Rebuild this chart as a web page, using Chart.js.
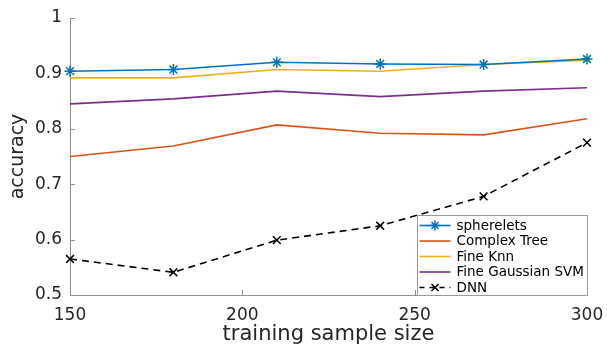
<!DOCTYPE html>
<html>
<head>
<meta charset="utf-8">
<script src="https://cdn.jsdelivr.net/npm/chart.js@4/dist/chart.umd.min.js"></script>
<style>
  html, body { margin: 0; padding: 0; background: #ffffff; }
  #wrap { width: 607px; height: 347px; }
</style>
</head>
<body>
<div id="wrap"><canvas id="c" width="607" height="347"></canvas></div>
<script>
// Accuracy of each classifier against the training sample size
const sampleSizes     = [150, 180, 210, 240, 270, 300];
const spherelets      = [0.904, 0.907, 0.920, 0.917, 0.916, 0.926];
const complexTree     = [0.750, 0.769, 0.807, 0.792, 0.789, 0.818];
const fineKnn         = [0.892, 0.892, 0.907, 0.904, 0.916, 0.924];
const fineGaussianSvm = [0.845, 0.854, 0.868, 0.858, 0.868, 0.874];
const dnn             = [0.565, 0.541, 0.599, 0.625, 0.678, 0.775];

const seriesNames = ['spherelets', 'Complex Tree', 'Fine Knn', 'Fine Gaussian SVM', 'DNN'];
const xTickValues = [150, 200, 250, 300];
const yTickValues = [0.5, 0.6, 0.7, 0.8, 0.9, 1];
const xTitle = 'training sample size';
const yTitle = 'accuracy';

const FONT = '"DejaVu Sans", sans-serif';
const TEXT = '#262626';
const AXIS = '#8f8f8f';

const toPoints = vals => vals.map((v, i) => ({ x: sampleSizes[i], y: v }));

const series = [
  { values: spherelets,      color: '#0072BD', marker: 'star',     dash: [] },
  { values: complexTree,     color: '#D95319', marker: false,      dash: [] },
  { values: fineKnn,         color: '#EDB120', marker: false,      dash: [] },
  { values: fineGaussianSvm, color: '#7E2F8E', marker: false,      dash: [] },
  { values: dnn,             color: '#000000', marker: 'crossRot', dash: [7, 5] }
];

const datasets = series.map((s, i) => ({
  label: seriesNames[i],
  data: toPoints(s.values),
  borderColor: s.color,
  backgroundColor: s.color,
  borderWidth: 1.6,
  borderDash: s.dash,
  pointStyle: s.marker || 'circle',
  pointRadius: s.marker ? 5.5 : 0,
  pointBorderWidth: 1.5,
  pointBorderColor: s.color,
  pointBackgroundColor: s.color,
  tension: 0,
  clip: false
}));

// Inward tick marks along the left and bottom axes
const tickMarks = {
  id: 'tickMarks',
  afterDraw(chart) {
    const { ctx, chartArea: a, scales: { x, y } } = chart;
    ctx.save();
    ctx.strokeStyle = AXIS;
    ctx.lineWidth = 1;
    ctx.beginPath();
    yTickValues.forEach(v => {
      const py = Math.round(y.getPixelForValue(v)) + 0.5;
      ctx.moveTo(a.left, py);
      ctx.lineTo(a.left + 5, py);
    });
    xTickValues.forEach(v => {
      const px = Math.round(x.getPixelForValue(v)) + 0.5;
      ctx.moveTo(px, a.bottom);
      ctx.lineTo(px, a.bottom - 5);
    });
    ctx.stroke();
    ctx.restore();
  }
};

// Boxed legend tucked into the lower right corner of the plot
const cornerLegend = {
  id: 'cornerLegend',
  afterDraw(chart) {
    const { ctx, chartArea: a } = chart;
    const w = 170, h = 80;
    const left = Math.round(a.right - w) + 0.5;
    const top = Math.round(a.bottom - h) + 0.5;
    ctx.save();
    ctx.fillStyle = '#ffffff';
    ctx.fillRect(left, top, w, h);
    ctx.strokeStyle = '#9a9a9a';
    ctx.lineWidth = 1;
    ctx.strokeRect(left, top, w, h);
    chart.data.datasets.forEach((ds, i) => {
      const cy = top + 10 + i * 15.5;
      const x0 = left + 2, x1 = left + 33, mid = (x0 + x1) / 2;
      ctx.strokeStyle = ds.borderColor;
      ctx.lineWidth = 1.6;
      ctx.setLineDash(ds.borderDash && ds.borderDash.length ? [5, 5] : []);
      ctx.beginPath();
      ctx.moveTo(x0, cy);
      ctx.lineTo(x1, cy);
      ctx.stroke();
      ctx.setLineDash([]);
      if (ds.pointRadius > 0) {
        ctx.lineWidth = 1.5;
        Chart.helpers.drawPoint(ctx, {
          pointStyle: ds.pointStyle, radius: 5, borderWidth: 1.5, rotation: 0
        }, mid, cy);
      }
      ctx.fillStyle = '#000000';
      ctx.font = '13.5px ' + FONT;
      ctx.textBaseline = 'middle';
      ctx.textAlign = 'left';
      ctx.fillText(ds.label, left + 39, cy + 0.5);
    });
    ctx.restore();
  }
};

new Chart(document.getElementById('c'), {
  type: 'line',
  data: { datasets },
  plugins: [tickMarks, cornerLegend],
  options: {
    responsive: false,
    animation: false,
    devicePixelRatio: 1,
    layout: { padding: { top: 18, right: 20, left: 0, bottom: 0 } },
    plugins: { legend: { display: false }, tooltip: { enabled: false } },
    scales: {
      x: {
        type: 'linear',
        min: 150,
        max: 300,
        afterBuildTicks: s => { s.ticks = xTickValues.map(v => ({ value: v })); },
        afterFit: s => { s.height = 52; s.paddingLeft = 0; s.paddingRight = 0; },
        grid: { display: false, drawTicks: false },
        border: { display: true, color: AXIS, width: 1 },
        ticks: {
          padding: 10,
          maxRotation: 0,
          autoSkip: false,
          color: TEXT,
          font: { family: FONT, size: 17 },
          callback: v => String(v)
        },
        title: {
          display: true,
          text: xTitle,
          color: TEXT,
          font: { family: FONT, size: 21 },
          padding: { top: 0, bottom: 0 }
        }
      },
      y: {
        type: 'linear',
        min: 0.5,
        max: 1,
        afterBuildTicks: s => { s.ticks = yTickValues.map(v => ({ value: v })); },
        afterFit: s => { s.width = 70; s.paddingTop = 0; s.paddingBottom = 0; },
        grid: { display: false, drawTicks: false },
        border: { display: true, color: AXIS, width: 1 },
        ticks: {
          padding: 8,
          autoSkip: false,
          color: TEXT,
          font: { family: FONT, size: 17 },
          callback: v => (v === 1 ? '1' : v.toFixed(1))
        },
        title: {
          display: true,
          text: yTitle,
          color: TEXT,
          font: { family: FONT, size: 19 },
          padding: { top: 7, bottom: 0 }
        }
      }
    }
  }
});
</script>
</body>
</html>
